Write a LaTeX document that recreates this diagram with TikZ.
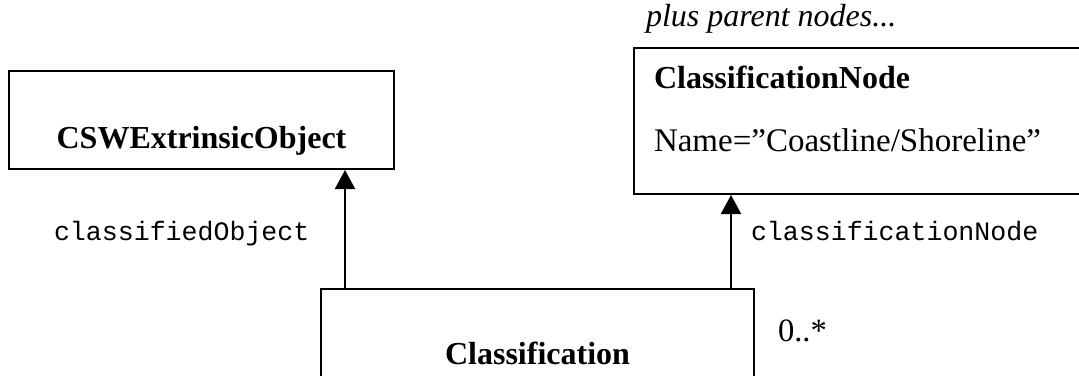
\documentclass[tikz,border=0pt]{standalone}
\usepackage{fontspec}
\setmainfont{Liberation Serif}
\setmonofont{Liberation Mono}
\usetikzlibrary{arrows.meta}

\begin{document}
\begin{tikzpicture}[x=0.5pt,y=-0.5pt,line width=1pt,
    box/.style={draw,anchor=north west,inner sep=0pt,font=\fontsize{16}{19.2}\selectfont},
    role/.style={anchor=base west,inner sep=0pt,font=\fontsize{13.3}{16}\selectfont\ttfamily},
    note/.style={anchor=base west,inner sep=0pt,font=\fontsize{16.3}{19.2}\selectfont},
    assoc/.style={-{Triangle[width=10pt,length=9.5pt]}}]
\useasboundingbox (0,0) rectangle (1079,375);
\clip (0,0) rectangle (1079,375);
\path % the three classes
    node[box,minimum width=192.5pt,text height=38.5pt,text depth=10.5pt] (1) at (8,70) {\textbf{CSWExtrinsicObject}}
    node[box,align=left,text width=208pt,inner xsep=10pt,text height=20pt,text depth=53pt] (2) at (633,47)
        {\textbf{ClassificationNode}\\[12.6pt]{\fontsize{16.5}{19.2}\selectfont Name=”Coastline/Shoreline”}}
    node[box,minimum width=216.5pt,text height=37.5pt,text depth=20pt] (3) at (320,288) {\textbf{Classification}};

\node[note,font=\fontsize{16}{19.2}\selectfont\itshape] (4) at (645,26) {plus parent nodes...};
\node[role] (5) at (53,240) {classifiedObject};
\node[role] (6) at (750,240) {classificationNode};
\node[note] (7) at (777,341) {0..*};

\coordinate (a) at ([xshift=12.5pt]3.north west);
\coordinate (b) at ([xshift=-12pt]3.north east);
\draw[assoc] (a) -- (a |- 1.south);
\draw[assoc] (b) -- (b |- 2.south);
\end{tikzpicture}
\end{document}
